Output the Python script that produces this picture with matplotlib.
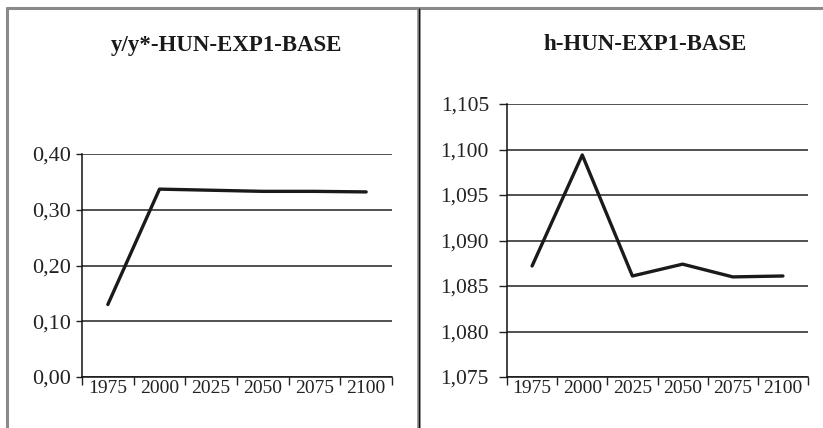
import matplotlib.pyplot as plt
from matplotlib.lines import Line2D

years = ["1975", "2000", "2025", "2050", "2075", "2100"]
ratio_vals = [0.130, 0.337, 0.335, 0.333, 0.333, 0.332]
h_vals = [1.0872, 1.0994, 1.0861, 1.0874, 1.0860, 1.0861]
ratio_ticks = [0.00, 0.10, 0.20, 0.30, 0.40]
h_ticks = [1.075, 1.080, 1.085, 1.090, 1.095, 1.100, 1.105]

plt.rcParams['font.family'] = ['Liberation Serif', 'DejaVu Serif']

W, H = 823, 428
fig = plt.figure(figsize=(W / 100, H / 100), dpi=100)


def px_axes(x0, x1, ytop, ybot):
    return fig.add_axes([x0 / W, 1 - ybot / H, (x1 - x0) / W, (ybot - ytop) / H])


def comma(v, nd):
    return f"{v:.{nd}f}".replace(".", ",")


def draw_panel(ax, vals, ticks, nd, title, title_x, ylab_size, ytick_len, ytick_pad):
    x = list(range(len(years)))
    ax.plot(x, vals, color="#1a1a1a", lw=2.4, solid_capstyle="round", zorder=3)
    ax.set_xlim(-0.5, len(years) - 0.5)
    ax.set_ylim(ticks[0], ticks[-1])
    ax.set_yticks(ticks)
    ax.set_yticklabels([comma(t, nd) for t in ticks], fontsize=ylab_size, color="#222222")
    ax.yaxis.grid(True, color="#222222", lw=1.1)
    ax.set_axisbelow(True)
    # boundaries between categories get the tick marks, labels sit in between
    ax.set_xticks([i - 0.5 for i in range(len(years) + 1)])
    ax.set_xticklabels([])
    ax.set_xticks(x, minor=True)
    ax.set_xticklabels(years, minor=True, fontsize=14, color="#222222")
    ax.tick_params(axis="x", which="major", length=6, width=1, direction="out", color="#222222")
    ax.tick_params(axis="x", which="minor", length=0, pad=2)
    ax.tick_params(axis="y", length=ytick_len, width=1, pad=ytick_pad, color="#222222")
    for s in ["top", "right"]:
        ax.spines[s].set_visible(False)
    for s in ["left", "bottom"]:
        ax.spines[s].set_color("#111111")
        ax.spines[s].set_linewidth(1.1)
    ax.patch.set_alpha(0)
    fig.text(title_x / W, 1 - 45 / H, title, ha="center", va="center",
             fontsize=16.5, fontweight="bold", color="#1a1a1a")


ax1 = px_axes(82, 392, 154, 377)
draw_panel(ax1, ratio_vals, ratio_ticks, 2, "y/y*-HUN-EXP1-BASE", 227, 16, 4, 4)

ax2 = px_axes(507, 808, 104, 377)
draw_panel(ax2, h_vals, h_ticks, 3, "h-HUN-EXP1-BASE", 645, 15.5, 6, 7)

# frame lines around the two panels
frame = dict(color="#8a8a8a", lw=2.2, solid_capstyle="butt")
fig.add_artist(Line2D([6 / W, 1], [1 - 7.5 / H, 1 - 7.5 / H], transform=fig.transFigure, **frame))
fig.add_artist(Line2D([6.5 / W, 6.5 / W], [0, 1 - 6.5 / H], transform=fig.transFigure, **frame))
fig.add_artist(Line2D([418.5 / W, 418.5 / W], [0, 1 - 6.5 / H], transform=fig.transFigure,
                      color="#8a8a8a", lw=2.6, solid_capstyle="butt"))
fig.add_artist(Line2D([418.5 / W, 418.5 / W], [0, 1 - 8 / H], transform=fig.transFigure,
                      color="#111111", lw=0.9, solid_capstyle="butt"))

fig.savefig("out.png", dpi=100)
